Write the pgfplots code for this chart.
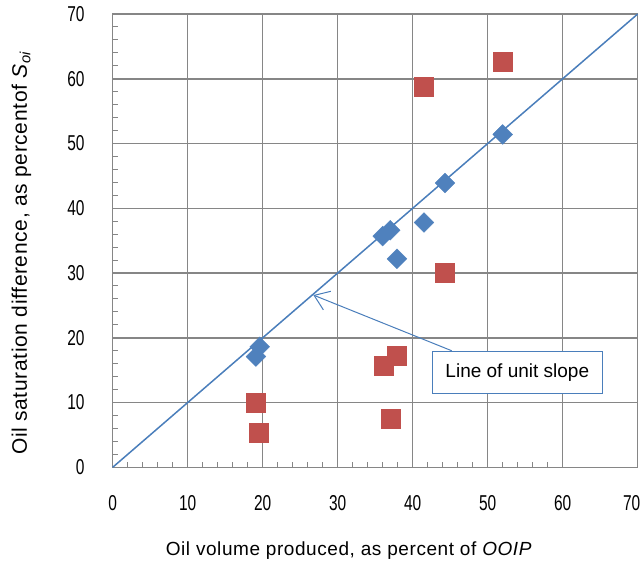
\documentclass[border=0pt]{standalone}
\usepackage{fontspec}
\setmainfont{Liberation Sans}
\newfontfamily\tickfont{Liberation Sans}[FakeStretch=0.72]
\newfontfamily\labelfont{Liberation Sans}[LetterSpace=3]
\usepackage{pgfplots}
\pgfplotsset{compat=1.18}
\usetikzlibrary{arrows.meta}

\definecolor{gridgray}{HTML}{868686}
\definecolor{serblue}{HTML}{4F81BD}
\definecolor{serred}{HTML}{C0504D}
\definecolor{lineblue}{HTML}{4A7EBB}

\begin{document}
\begin{tikzpicture}
\begin{axis}[
  scale only axis, width=525bp, height=453.3bp,
  xmin=0, xmax=70, ymin=0, ymax=70,
  xtick={0,10,...,60}, ytick={0,10,...,70},
  extra x ticks={70},
  extra x tick style={xticklabel style={xshift=-6bp}},
  minor tick num=4,
  major tick length=0pt, minor tick length=5bp,
  tick align=inside, xtick pos=bottom, ytick pos=left,
  grid=major,
  major grid style={gridgray, line width=1.5bp},
  axis line style={gridgray, line width=1.5bp},
  tick style={gridgray, line width=1bp},
  /pgf/number format/assume math mode=true,
  tick label style={font=\tickfont\fontsize{21.5bp}{23bp}\selectfont},
  xticklabel style={anchor=north, inner sep=0pt, yshift=-28.4bp},
  yticklabel style={anchor=east, inner sep=0pt, xshift=-28bp},
  xlabel={Oil volume produced, as percent of \textit{OOIP}},
  ylabel={Oil saturation difference, as percentof \textit{S}\textsubscript{\textit{oi}}},
  xlabel style={font=\labelfont\fontsize{19bp}{22bp}\selectfont,
    at={(axis description cs:0.45,-0.184)}, anchor=center},
  ylabel style={font=\labelfont\fontsize{21bp}{24bp}\selectfont,
    at={(axis description cs:-0.1737,0.4735)}, anchor=center},
  clip=false,
]
% line of unit slope
\addplot[lineblue, line width=1.5bp, no marks] coordinates {(0,0) (70,70)};

% measured points
\addplot[only marks, mark=square*, mark size=7bp, serblue,
  mark options={rotate=45, fill=serblue, draw=serblue}] coordinates {
  (19.6,18.6) (19.1,17.1) (36.0,35.7) (37.0,36.6)
  (37.9,32.2) (41.5,37.8) (44.3,43.9) (52.0,51.4)
};
\addplot[only marks, mark=square*, mark size=9.5bp, serred,
  mark options={fill=serred, draw=serred}] coordinates {
  (19.1,10.0) (19.5,5.3) (36.1,15.7) (37.9,17.2)
  (37.1,7.5) (44.3,30.1) (41.4,58.8) (52.0,62.7)
};

% callout
\draw[lineblue, line width=1bp, -{Straight Barb[length=14bp, width=20bp]}]
  (axis cs:45.2,18.0) -- (axis cs:26.75,26.6);
\node[draw=lineblue, line width=0.9bp, fill=white, minimum width=170.6bp,
  minimum height=41.7bp, font=\fontsize{19bp}{21bp}\selectfont]
  at (axis cs:53.95,14.7) {Line of unit slope};
\end{axis}
\pgfresetboundingbox
\path ([shift={(-112.7bp,-95.7bp)}]current axis.south west)
  rectangle ([shift={(6.3bp,14bp)}]current axis.north east);
\end{tikzpicture}
\end{document}
